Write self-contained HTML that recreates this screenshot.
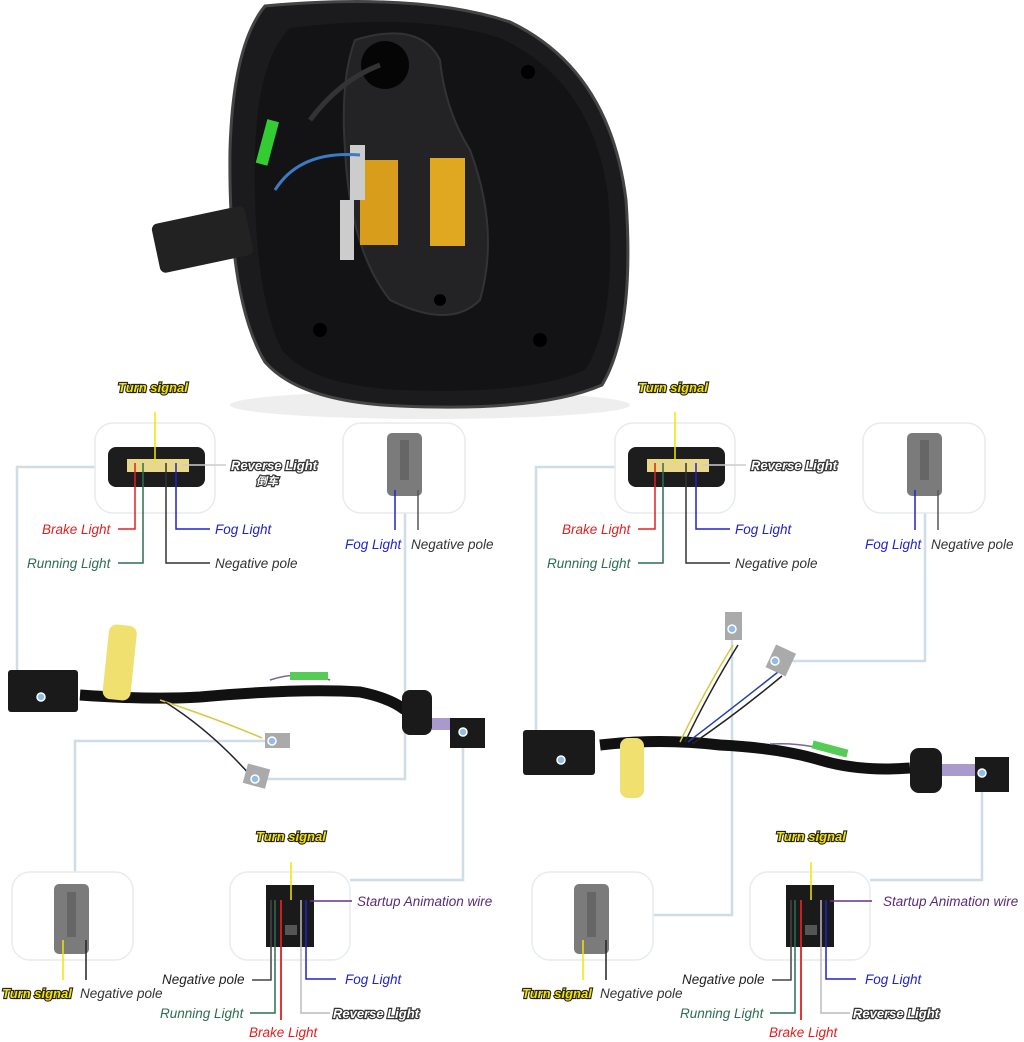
<!DOCTYPE html>
<html><head><meta charset="utf-8"><style>
html,body{margin:0;padding:0;background:#fff;}
svg{display:block;}
text{font-family:"Liberation Sans","Noto Sans CJK SC",sans-serif;font-style:italic;font-size:13.5px;}
.ts{fill:#f5e400;stroke:#222;stroke-width:2.2px;paint-order:stroke;font-weight:bold;font-size:13px;}
.rv{fill:#fff;stroke:#333;stroke-width:2.4px;paint-order:stroke;font-weight:bold;font-size:13px;}
.box{fill:#fff;stroke:#e6ecef;stroke-width:1.5;}
.cl{fill:none;stroke:#cfdde6;stroke-width:2.5;}
.dot{fill:#8fbfe8;stroke:#fff;stroke-width:1.5;}
</style></head><body>
<svg width="1024" height="1042" viewBox="0 0 1024 1042" xmlns="http://www.w3.org/2000/svg">
<!-- lamp -->
<ellipse cx="430" cy="405" rx="200" ry="14" fill="#eee"/>
<path d="M265 6 Q420 -8 510 22 Q610 70 626 200 Q635 330 602 385 Q540 412 400 406 Q300 402 265 362 Q228 300 230 150 Q233 45 265 6 Z" fill="#1b1b1d" stroke="#444" stroke-width="3"/>
<path d="M290 28 Q420 12 500 38 Q592 80 608 195 Q618 320 585 370 Q530 395 400 390 Q310 385 282 350 Q252 290 255 150 Q258 60 290 28 Z" fill="#131315"/>
<path d="M355 40 Q420 20 440 60 Q445 110 470 150 Q500 230 480 300 Q450 330 390 300 Q350 250 345 150 Q340 80 355 40Z" fill="#232326" stroke="#333" stroke-width="2"/>
<circle cx="385" cy="65" r="24" fill="#050505"/>
<rect x="155" y="215" width="95" height="50" rx="6" fill="#222" transform="rotate(-12 200 240)"/>
<rect x="430" y="158" width="35" height="88" fill="#e0a820"/>
<rect x="360" y="160" width="38" height="85" fill="#d99d1c"/>
<rect x="350" y="145" width="15" height="55" fill="#ccc"/>
<rect x="340" y="200" width="14" height="60" fill="#ccc"/>
<rect x="262" y="120" width="12" height="45" fill="#3c3" transform="rotate(15 268 140)"/>
<path d="M275 190 Q300 150 360 155" fill="none" stroke="#3a7cc4" stroke-width="3"/>
<path d="M310 120 Q340 80 380 65" fill="none" stroke="#333" stroke-width="5"/>
<circle cx="320" cy="330" r="7" fill="#000"/><circle cx="540" cy="340" r="7" fill="#000"/><circle cx="440" cy="300" r="6" fill="#000"/><circle cx="528" cy="72" r="7" fill="#000"/>

<!-- ================= LEFT HALF ================= -->
<g id="L">
<polyline class="cl" points="95,467 17,467 17,697 41,697"/>
<polyline class="cl" points="405,513 405,779 255,779"/>
<polyline class="cl" points="272,741 75,741 75,872"/>
<polyline class="cl" points="463,732 463,880 350,880"/>
<rect class="box" x="95" y="423" width="120" height="90" rx="18"/>
<rect class="box" x="343" y="423" width="122" height="90" rx="18"/>
<rect class="box" x="12" y="872" width="121" height="88" rx="18"/>
<rect class="box" x="230" y="872" width="120" height="88" rx="18"/>
<rect x="108" y="447" width="97" height="40" rx="8" fill="#1d1d1d"/>
<rect x="127" y="459" width="62" height="13" fill="#e8d98a"/>
<line x1="155" y1="412" x2="155" y2="462" stroke="#f5e400" stroke-width="1.5"/>
<polyline points="135,463 135,529 118,529" fill="none" stroke="#e02020" stroke-width="1.5"/>
<polyline points="143,463 143,563 118,563" fill="none" stroke="#2d6e52" stroke-width="1.5"/>
<polyline points="166,463 166,563 210,563" fill="none" stroke="#333" stroke-width="1.5"/>
<polyline points="176,463 176,529 210,529" fill="none" stroke="#2222cc" stroke-width="1.5"/>
<line x1="183" y1="465" x2="226" y2="465" stroke="#ccc" stroke-width="1.5"/>
<text x="118" y="392" class="ts">Turn signal</text>
<text x="231" y="470" class="rv">Reverse Light</text>
<text x="256" y="485" class="rv" style="font-size:11px">倒车</text>
<text x="42" y="534" fill="#e02020">Brake Light</text>
<text x="27" y="568" fill="#2d6e52">Running Light</text>
<text x="215" y="534" fill="#2222cc">Fog Light</text>
<text x="215" y="568" fill="#333">Negative pole</text>
<rect x="387" y="433" width="35" height="63" rx="5" fill="#7b7b7b"/>
<rect x="400" y="440" width="9" height="40" fill="#666"/>
<line x1="395" y1="490" x2="395" y2="530" stroke="#2222cc" stroke-width="1.5"/>
<line x1="418" y1="490" x2="418" y2="530" stroke="#555" stroke-width="1.5"/>
<text x="345" y="549" fill="#2222cc">Fog Light</text>
<text x="411" y="549" fill="#333">Negative pole</text>
<rect x="54" y="884" width="35" height="70" rx="5" fill="#7b7b7b"/>
<rect x="67" y="892" width="9" height="45" fill="#666"/>
<line x1="63" y1="940" x2="63" y2="980" stroke="#f5e400" stroke-width="1.5"/>
<line x1="86" y1="940" x2="86" y2="980" stroke="#222" stroke-width="1.5"/>
<text x="2" y="998" class="ts">Turn signal</text>
<text x="80" y="998" fill="#333">Negative pole</text>
<rect x="266" y="885" width="48" height="62" fill="#1a1a1a"/>
<rect x="285" y="925" width="12" height="10" fill="#555"/>
<line x1="291" y1="862" x2="291" y2="900" stroke="#f5e400" stroke-width="1.5"/>
<polyline points="271,900 271,980 252,980" fill="none" stroke="#444" stroke-width="1.5"/>
<polyline points="275,900 275,1013 250,1013" fill="none" stroke="#2d6e52" stroke-width="1.5"/>
<line x1="281" y1="900" x2="281" y2="1020" stroke="#e02020" stroke-width="1.8"/>
<polyline points="301,900 301,1013 330,1013" fill="none" stroke="#bbb" stroke-width="1.5"/>
<polyline points="306,900 306,979 336,979" fill="none" stroke="#2222cc" stroke-width="1.5"/>
<line x1="310" y1="901" x2="352" y2="901" stroke="#6a2f8a" stroke-width="1.5"/>
<text x="256" y="841" class="ts">Turn signal</text>
<text x="357" y="906" fill="#5a2a7a">Startup Animation wire</text>
<text x="162" y="984" fill="#222">Negative pole</text>
<text x="345" y="984" fill="#2222cc">Fog Light</text>
<text x="160" y="1018" fill="#2d6e52">Running Light</text>
<text x="333" y="1018" class="rv">Reverse Light</text>
<text x="249" y="1037" fill="#e02020">Brake Light</text>
</g>
<!-- left harness -->
<path d="M80 695 Q150 700 200 697 Q300 688 360 692 Q390 698 405 710" fill="none" stroke="#111" stroke-width="11"/>
<path d="M160 700 Q220 720 262 738" fill="none" stroke="#d8c840" stroke-width="1.5"/>
<path d="M165 702 Q210 730 250 775" fill="none" stroke="#223" stroke-width="1.5"/>
<path d="M270 680 Q300 670 330 680" fill="none" stroke="#769" stroke-width="1.5"/>
<rect x="290" y="672" width="38" height="8" fill="#5c5"/>
<rect x="8" y="670" width="70" height="42" rx="3" fill="#1a1a1a"/>
<rect x="106" y="625" width="28" height="75" rx="8" fill="#f0e070" transform="rotate(6 120 660)"/>
<rect x="402" y="690" width="30" height="45" rx="8" fill="#1a1a1a"/>
<rect x="432" y="718" width="20" height="12" fill="#a9c"/>
<rect x="450" y="718" width="35" height="30" fill="#1a1a1a"/>
<rect x="265" y="733" width="25" height="15" fill="#aaa"/>
<rect x="245" y="766" width="23" height="20" fill="#aaa" transform="rotate(15 256 776)"/>
<circle class="dot" cx="41" cy="697" r="4"/><circle class="dot" cx="463" cy="732" r="4"/>
<circle class="dot" cx="272" cy="741" r="4"/><circle class="dot" cx="255" cy="779" r="4"/>

<!-- ================= RIGHT HALF ================= -->
<g transform="translate(520,0)">
<polyline class="cl" points="95,467 16,467 16,760 41,760"/>
<polyline class="cl" points="405,513 405,661 255,661"/>
<polyline class="cl" points="212,629 212,915 133,915"/>
<polyline class="cl" points="462,773 462,880 350,880"/>
<rect class="box" x="95" y="423" width="120" height="90" rx="18"/>
<rect class="box" x="343" y="423" width="122" height="90" rx="18"/>
<rect class="box" x="12" y="872" width="121" height="88" rx="18"/>
<rect class="box" x="230" y="872" width="120" height="88" rx="18"/>
<rect x="108" y="447" width="97" height="40" rx="8" fill="#1d1d1d"/>
<rect x="127" y="459" width="62" height="13" fill="#e8d98a"/>
<line x1="155" y1="412" x2="155" y2="462" stroke="#f5e400" stroke-width="1.5"/>
<polyline points="135,463 135,529 118,529" fill="none" stroke="#e02020" stroke-width="1.5"/>
<polyline points="143,463 143,563 118,563" fill="none" stroke="#2d6e52" stroke-width="1.5"/>
<polyline points="166,463 166,563 210,563" fill="none" stroke="#333" stroke-width="1.5"/>
<polyline points="176,463 176,529 210,529" fill="none" stroke="#2222cc" stroke-width="1.5"/>
<line x1="183" y1="465" x2="226" y2="465" stroke="#ccc" stroke-width="1.5"/>
<text x="118" y="392" class="ts">Turn signal</text>
<text x="231" y="470" class="rv">Reverse Light</text>
<text x="42" y="534" fill="#e02020">Brake Light</text>
<text x="27" y="568" fill="#2d6e52">Running Light</text>
<text x="215" y="534" fill="#2222cc">Fog Light</text>
<text x="215" y="568" fill="#333">Negative pole</text>
<rect x="387" y="433" width="35" height="63" rx="5" fill="#7b7b7b"/>
<rect x="400" y="440" width="9" height="40" fill="#666"/>
<line x1="395" y1="490" x2="395" y2="530" stroke="#2222cc" stroke-width="1.5"/>
<line x1="418" y1="490" x2="418" y2="530" stroke="#555" stroke-width="1.5"/>
<text x="345" y="549" fill="#2222cc">Fog Light</text>
<text x="411" y="549" fill="#333">Negative pole</text>
<rect x="54" y="884" width="35" height="70" rx="5" fill="#7b7b7b"/>
<rect x="67" y="892" width="9" height="45" fill="#666"/>
<line x1="63" y1="940" x2="63" y2="980" stroke="#f5e400" stroke-width="1.5"/>
<line x1="86" y1="940" x2="86" y2="980" stroke="#222" stroke-width="1.5"/>
<text x="2" y="998" class="ts">Turn signal</text>
<text x="80" y="998" fill="#333">Negative pole</text>
<rect x="266" y="885" width="48" height="62" fill="#1a1a1a"/>
<rect x="285" y="925" width="12" height="10" fill="#555"/>
<line x1="291" y1="862" x2="291" y2="900" stroke="#f5e400" stroke-width="1.5"/>
<polyline points="271,900 271,980 252,980" fill="none" stroke="#444" stroke-width="1.5"/>
<polyline points="275,900 275,1013 250,1013" fill="none" stroke="#2d6e52" stroke-width="1.5"/>
<line x1="281" y1="900" x2="281" y2="1020" stroke="#e02020" stroke-width="1.8"/>
<polyline points="301,900 301,1013 330,1013" fill="none" stroke="#bbb" stroke-width="1.5"/>
<polyline points="306,900 306,979 336,979" fill="none" stroke="#2222cc" stroke-width="1.5"/>
<line x1="310" y1="901" x2="352" y2="901" stroke="#6a2f8a" stroke-width="1.5"/>
<text x="256" y="841" class="ts">Turn signal</text>
<text x="363" y="906" fill="#5a2a7a">Startup Animation wire</text>
<text x="162" y="984" fill="#222">Negative pole</text>
<text x="345" y="984" fill="#2222cc">Fog Light</text>
<text x="160" y="1018" fill="#2d6e52">Running Light</text>
<text x="333" y="1018" class="rv">Reverse Light</text>
<text x="249" y="1037" fill="#e02020">Brake Light</text>
<!-- right harness -->
<path d="M80 745 Q140 738 200 745 Q260 748 300 760 Q340 772 390 768" fill="none" stroke="#111" stroke-width="11"/>
<path d="M160 742 Q185 690 213 645" fill="none" stroke="#d8c840" stroke-width="1.5"/>
<path d="M165 742 Q190 690 218 645" fill="none" stroke="#222" stroke-width="1.5"/>
<path d="M168 742 Q210 710 258 672" fill="none" stroke="#2244aa" stroke-width="1.5"/>
<path d="M172 744 Q215 715 262 676" fill="none" stroke="#222" stroke-width="1.5"/>
<path d="M250 744 Q290 742 320 755" fill="none" stroke="#769" stroke-width="1.5"/>
<rect x="292" y="745" width="36" height="8" fill="#5c5" transform="rotate(15 310 749)"/>
<rect x="3" y="730" width="72" height="45" rx="3" fill="#1a1a1a"/>
<rect x="100" y="738" width="24" height="60" rx="8" fill="#f0e070"/>
<rect x="390" y="748" width="32" height="45" rx="9" fill="#1a1a1a"/>
<rect x="422" y="764" width="38" height="12" fill="#a9c"/>
<rect x="455" y="757" width="34" height="35" fill="#1a1a1a"/>
<rect x="205" y="612" width="17" height="28" fill="#aaa"/>
<rect x="250" y="648" width="22" height="25" fill="#aaa" transform="rotate(25 261 660)"/>
<circle class="dot" cx="41" cy="760" r="4"/><circle class="dot" cx="462" cy="773" r="4"/>
<circle class="dot" cx="212" cy="629" r="4"/><circle class="dot" cx="255" cy="661" r="4"/>
</g>
</svg>
</body></html>
